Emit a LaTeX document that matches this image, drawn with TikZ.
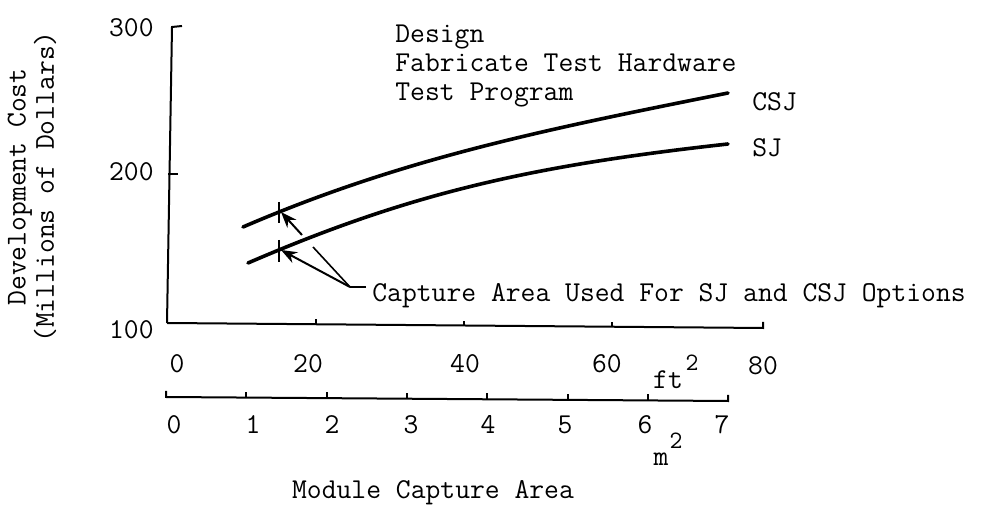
\documentclass[tikz,border=0pt]{standalone}
\usetikzlibrary{arrows.meta}
\begin{document}
\begin{tikzpicture}[x=0.5pt,y=-0.5pt,
  txt/.style={font=\fontsize{14.4}{14.5}\ttfamily, inner sep=0pt},
  sup/.style={font=\fontsize{12.5}{15}\ttfamily, inner sep=0pt},
  axis/.style={line width=1pt},
  curve/.style={line width=1.8pt, line cap=round},
  lead/.style={line width=0.8pt},
  arr/.style={-{Stealth[length=8pt,width=6pt]}},
  ]
\useasboundingbox (0,0) rectangle (1000,512);

% y axis
\coordinate (ytop) at (172,27);
\coordinate (orig) at (167,323);
\draw[axis] (182,26) -- (ytop) -- (orig);
\draw[axis] (168,174) -- (178,174);
\node[txt, anchor=east] (y300) at (154,28) {300};
\node[txt, anchor=east] (y200) at (154,172) {200};
\node[txt, anchor=east] (y100) at (154,330) {100};
\node[txt, rotate=90, align=center, font=\fontsize{14.4}{11}\ttfamily] (ytitle) at (32,187) {Development Cost\\(Millions of Dollars)};

% ft^2 axis
\coordinate (xend) at (763,328);
\draw[axis] (orig) -- (xend) -- ++(0,-6);
\foreach \x/\y in {316/324.5, 464/325.8, 612/327} \draw[axis] (\x,\y) -- ++(0,-5);
\node[txt] (f0) at (177,364) {0};
\node[txt] (f20) at (308,364) {20};
\node[txt] (f40) at (465,364) {40};
\node[txt] (f60) at (607,364) {60};
\node[txt] (f80) at (763,366) {80};
\node[txt] (ft) at (668,380) {ft};
\node[sup] (ft2) at (692,363) {2};

% m^2 axis
\coordinate (m0) at (166,397);
\coordinate (m7) at (728,401);
\draw[axis] (m0) ++(0,-6) -- (m0) -- (m7) -- ++(0,-6);
\foreach \i in {1,...,6} \draw[axis] ({166+80.3*\i},{397+0.57*\i}) -- ++(0,-6);
\foreach \i/\x in {0/174,1/253,2/332,3/411,4/488,5/565,6/645,7/722}
  \node[txt] (m\i lab) at (\x,425) {\i};
\node[txt] (mm) at (661,459) {m};
\node[sup] (mm2) at (676,441) {2};
\node[txt] (xtitle) at (433,493) {Module Capture Area};

% curves
\draw[curve] (243,227) .. controls (403,158) and (548,129) .. (728,93);
\draw[curve] (248,263) .. controls (408,194) and (528,166) .. (728,144);
\draw[line width=1.3pt] (279,202) -- (279,223);
\draw[line width=1.3pt] (279,240) -- (279,262);
\coordinate (csjpt) at (281,212);
\coordinate (sjpt) at (281,250);
\node[txt, anchor=west] (csj) at (752,102) {CSJ};
\node[txt, anchor=west] (sj) at (752,148) {SJ};

% legend text
\node[txt, anchor=north west, align=left] (legend) at (395,25) {Design\\Fabricate Test Hardware\\Test Program};

% capture area annotation
\node[txt, anchor=west] (cap) at (372,296) {Capture Area Used For SJ and CSJ Options};
\coordinate (junc) at (350,287);
\draw[lead] (366,287) -- (junc);
\draw[lead, arr, line width=1pt] (junc) -- (sjpt);
\draw[lead] (junc) -- (313,247);
\draw[lead, arr, line width=1pt] (302,235) -- (csjpt);
\end{tikzpicture}
\end{document}
